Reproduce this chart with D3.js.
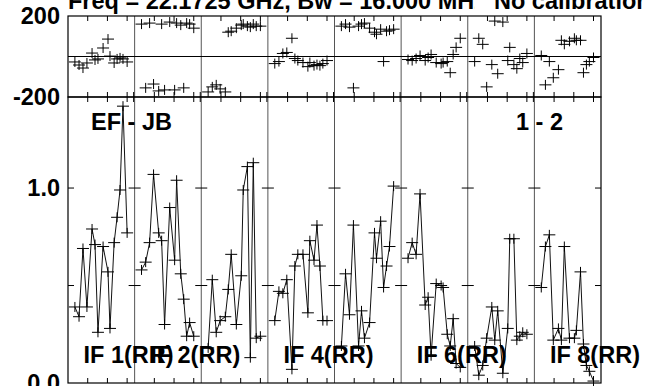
<!DOCTYPE html>
<html><head><meta charset="utf-8">
<script src="https://cdn.jsdelivr.net/npm/d3@7"></script>
<style>
html,body{margin:0;padding:0;background:#fff;}
svg text{font-family:"Liberation Sans",Arial,Helvetica,sans-serif;font-weight:bold;fill:#000;}
</style></head>
<body>
<svg id="c" width="645" height="386"></svg>
<script>
// ---- data ----
const titleMain = "Freq = 22.1725 GHz, Bw = 16.000 MHz";
const titleRight = "No calibration";
const baselineLabel = "EF - JB";
const antennaLabel = "1 - 2";
const ifNames = ["IF 1(RR)","IF 2(RR)","IF 3(RR)","IF 4(RR)","IF 5(RR)","IF 6(RR)","IF 7(RR)","IF 8(RR)"];
const ifLabelShown = [true,true,false,true,false,true,false,true];
const times = [0.35,0.56,0.76,0.96,1.22,1.37,1.52,1.78,2.03,2.13,2.34,2.49,2.64,2.79,3.0];
const timeTicks = [1,2,3];
const phaseTicks = [-200,200];
const ampTicks = [0,1];
const ampMinorTicks = [0.5,1.0];

const amp1 = [0.39,0.34,0.69,0.39,0.79,0.71,0.26,0.70,0.57,0.28,0.72,0.85,0.99,1.42,0.77];
const amp2 = [0.58,0.62,0.72,1.07,0.77,0.73,0.30,0.90,0.63,1.04,0.56,0.43,0.24,0.31,0.24];
const amp3 = [0.18,0.53,0.26,0.32,0.34,0.48,0.66,0.30,0.55,0.99,1.11,0.13,1.13,0.23,0.24];
const amp4 = [0.32,0.47,0.46,0.53,0.07,0.60,0.66,0.66,0.36,0.73,0.63,0.81,0.60,0.32,0.32];
const amp5 = [0.19,0.56,0.35,0.81,0.19,0.37,0.23,0.31,0.77,0.64,0.83,0.49,0.60,0.70,1.01];
const amp6 = [0.64,0.72,0.66,0.97,0.40,0.44,0.14,0.51,0.50,0.49,0.25,0.19,0.33,0.10,0.08];
const amp7 = [0.19,0.04,0.09,0.23,0.39,0.22,0.37,0.05,0.28,0.74,0.74,0.22,0.24,0.26,0.25];
const amp8 = [0.49,0.70,0.76,0.22,0.28,0.22,0.70,0.23,0.23,0.27,0.57,0.20,0.09,0.06,0.01];

const ph1 = [-27,-42,-57,-32,17,-17,-12,42,86,2,-32,-12,-7,-12,-27];
const ph2 = [160,-155,165,-136,-170,160,-165,170,-165,165,155,-155,165,160,140];
const ph3 = [-175,-150,-140,-160,-175,120,125,140,155,160,150,145,160,150,150];
const ph4 = [-35,-25,15,20,90,-10,-20,-30,-50,-30,-45,-40,-45,-35,-20];
const ph5 = [150,160,145,-155,150,160,165,140,120,110,135,-25,125,130,135];
const ph6 = [-15,-20,-10,5,-20,-5,10,-30,-35,-30,-25,-80,10,45,90];
const ph7 = [-25,90,60,-150,-40,175,-85,170,-20,45,-40,-60,-10,-30,15];
const ph8 = [5,-140,-25,-105,-65,80,60,75,90,80,80,-80,-40,-25,-5];

const amps = [amp1,amp2,amp3,amp4,amp5,amp6,amp7,amp8];
const phases = [ph1,ph2,ph3,ph4,ph5,ph6,ph7,ph8];

// ---- layout ----
const L = 68, R = 601, T = 16, MID = 97, B = 383;
const nCol = 8;
const svg = d3.select("#c");
const colX = d3.scaleLinear().domain([0, nCol]).range([L, R]);
const colW = colX(1) - colX(0);
const xT = d3.scaleLinear().domain([0, 3.38]).range([0, colW]);
const yP = d3.scaleLinear().domain([-200, 200]).range([MID, T]);
const yA = d3.scaleLinear().domain([0, 1.467]).range([B, MID]);

// clip for title
svg.append("defs").append("clipPath").attr("id","tclip")
  .append("rect").attr("x",0).attr("y",-20).attr("width",475).attr("height",60);

svg.append("text").attr("x", L).attr("y", 9).attr("font-size", 23.5)
  .attr("clip-path","url(#tclip)").text(titleMain);
svg.append("text").attr("x", 494).attr("y", 9).attr("font-size", 23.5).text(titleRight);

// column dividers
const g = svg.append("g");
for (let i = 1; i < nCol; i++) {
  g.append("line").attr("x1", colX(i)).attr("x2", colX(i)).attr("y1", T).attr("y2", B)
    .attr("stroke", "#555").attr("stroke-width", 1);
}
// zero phase line
g.append("line").attr("x1", L).attr("x2", R).attr("y1", yP(0)).attr("y2", yP(0))
  .attr("stroke", "#000").attr("stroke-width", 1);

// frames
g.append("rect").attr("x", L).attr("y", T).attr("width", R - L).attr("height", MID - T)
  .attr("fill", "none").attr("stroke", "#000").attr("stroke-width", 1.2);
g.append("rect").attr("x", L).attr("y", MID).attr("width", R - L).attr("height", B - MID)
  .attr("fill", "none").attr("stroke", "#000").attr("stroke-width", 1.2);

// time ticks
const tk = svg.append("g").attr("stroke", "#000").attr("stroke-width", 1);
for (let i = 0; i < nCol; i++) {
  const x0 = colX(i);
  timeTicks.forEach(t => {
    const x = x0 + xT(t);
    tk.append("line").attr("x1", x).attr("x2", x).attr("y1", T).attr("y2", T + 5);
    tk.append("line").attr("x1", x).attr("x2", x).attr("y1", MID - 5).attr("y2", MID + 5);
    tk.append("line").attr("x1", x).attr("x2", x).attr("y1", B - 5).attr("y2", B);
  });
}
for (let i = 1; i < nCol; i++) {
  const x = colX(i);
  tk.append("line").attr("x1", x - 1).attr("x2", x - 1).attr("y1", MID - 5).attr("y2", MID + 5);
}
// amplitude ticks on column borders
for (let i = 0; i <= nCol; i++) {
  const x = colX(i);
  ampMinorTicks.forEach(v => {
    const y = yA(v);
    const x1 = i === 0 ? x : x - 6;
    const x2 = i === nCol ? x : x + 6;
    tk.append("line").attr("x1", x1).attr("x2", x2).attr("y1", y).attr("y2", y);
  });
}

// axes labels
const fmtP = d => (d < 0 ? "-" : "") + Math.abs(d);
const axP = d3.axisLeft(yP).tickValues(phaseTicks).tickSize(0).tickPadding(8).tickFormat(fmtP);
const axA = d3.axisLeft(yA).tickValues(ampTicks).tickSize(0).tickPadding(8).tickFormat(d3.format(".1f"));
[axP, axA].forEach(ax => {
  const ga = svg.append("g").attr("transform", `translate(${L},0)`).call(ax);
  ga.select(".domain").remove();
  ga.selectAll("text").attr("font-size", 23.5).attr("font-family", "Liberation Sans, Arial, sans-serif")
    .attr("font-weight", "bold").attr("fill", "#000");
});

// data
const cross = (sel, x, y) => {
  sel.append("line").attr("x1", x - 6).attr("x2", x + 6).attr("y1", y).attr("y2", y);
  sel.append("line").attr("x1", x).attr("x2", x).attr("y1", y - 5).attr("y2", y + 5);
};
for (let i = 0; i < nCol; i++) {
  const x0 = colX(i);
  const gc = svg.append("g").attr("stroke", "#000").attr("stroke-width", 1).attr("fill", "none");
  const line = d3.line().x((d, k) => x0 + xT(times[k])).y(d => yA(d));
  gc.append("path").attr("d", line(amps[i])).attr("stroke", "#111");
  amps[i].forEach((v, k) => cross(gc, x0 + xT(times[k]), yA(v)));
  phases[i].forEach((v, k) => cross(gc, x0 + xT(times[k]), yP(v)));
}

// labels
svg.append("text").attr("x", 91).attr("y", 130).attr("font-size", 23.5).text(baselineLabel);
svg.append("text").attr("x", 516).attr("y", 130).attr("font-size", 23.5).text(antennaLabel);
ifNames.forEach((n, i) => {
  if (!ifLabelShown[i]) return;
  svg.append("text").attr("x", colX(i) + 15.5).attr("y", 363).attr("font-size", 23.5).text(n);
});
</script>
</body></html>
